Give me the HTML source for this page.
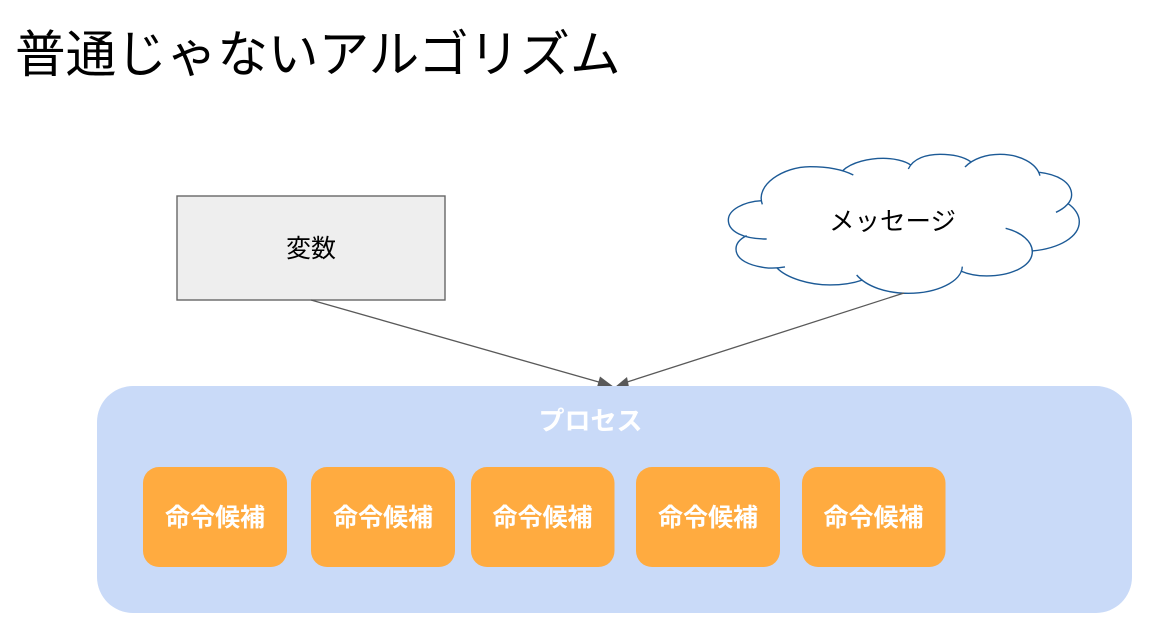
<!DOCTYPE html>
<html lang="ja"><head><meta charset="utf-8"><style>
html,body{margin:0;padding:0;background:#fff;width:1156px;height:633px;overflow:hidden}
svg{display:block}
text{font-family:"Liberation Sans","Noto Sans CJK JP",sans-serif}
.b{font-size:25px;font-weight:700;fill:#fff;text-anchor:middle}
.n{font-size:25px;fill:#000;text-anchor:middle}
</style></head><body>
<svg width="1156" height="633" viewBox="0 0 1156 633" xmlns="http://www.w3.org/2000/svg">
<text x="15" y="72" font-size="50.6" fill="#000">普通じゃないアルゴリズム</text>
<rect x="177" y="196" width="268" height="104" fill="#eeeeee" stroke="#666" stroke-width="1.4"/>
<text class="n" x="311" y="257">変数</text>
<g transform="translate(720 145) scale(.3333)" fill="none" stroke="#1c5a96" stroke-width="4.2">
<path fill="#fff" stroke="none" d="M127,178 C105,120 190,65 270,65 L367,78 C395,50 450,40 490,40 L565,60 C580,40 620,28 660,28 L735,50 C760,40 800,28 840,28 C900,28 950,55 960,85 C1010,88 1055,110 1055,150 L1043,175 C1065,190 1078,210 1078,230 C1078,275 1020,310 937,318 C937,365 870,393 800,393 L727,378 C725,410 650,445 565,445 C500,445 440,425 415,405 C390,418 360,420 330,420 C270,420 200,400 170,368 L135,368 C90,362 48,345 48,312 C48,295 60,282 80,272 C70,282 25,260 25,225 C25,195 70,170 125,167Z"/>
<path d="M127,178 C105,120 190,65 270,65 C320,65 365,72 400,90"/>
<path d="M367,78 C395,50 450,40 490,40 C520,40 555,47 572,60"/>
<path d="M565,72 C580,40 620,28 660,28 C695,28 730,35 752,50"/>
<path d="M735,66 C760,40 800,28 840,28 C900,28 950,55 960,92"/>
<path d="M958,82 C1010,88 1055,110 1055,150 C1055,170 1035,190 1008,202"/>
<path d="M1043,175 C1065,190 1078,210 1078,230 C1078,275 1020,310 937,318"/>
<path d="M857,250 C905,262 937,290 937,320 C937,365 870,393 800,393 C770,393 745,388 722,378"/>
<path d="M727,365 C725,410 650,445 565,445 C500,445 440,425 410,390"/>
<path d="M428,405 C390,418 360,420 330,420 C270,420 200,400 170,368"/>
<path d="M195,366 C170,370 150,370 135,368 C90,362 48,345 48,312 C48,295 60,282 80,272"/>
<path d="M140,282 C70,282 25,260 25,225 C25,195 70,170 125,167"/>
</g>
<text class="n" x="892.500" y="230" style="font-size:25.500px">メッセージ</text>
<line x1="311" y1="300" x2="604" y2="383.5" stroke="#595959" stroke-width="1.3"/>
<line x1="904" y1="293" x2="624" y2="383" stroke="#595959" stroke-width="1.3"/>
<polygon points="614,387 600,376.5 597,387" fill="#595959"/>
<polygon points="615,387 627,377 629,387" fill="#595959"/>
<rect x="97" y="386" width="1035" height="227" rx="36" fill="#c9daf8"/>
<text class="b" x="590.500" y="430" style="font-size:26px">プロセス</text>
<g fill="#ffab40">
<rect x="143" y="467" width="144" height="100" rx="16"/>
<rect x="311" y="467" width="144" height="100" rx="16"/>
<rect x="471" y="467" width="143.500" height="100" rx="16"/>
<rect x="636" y="467" width="144" height="100" rx="16"/>
<rect x="802" y="467" width="143.500" height="100" rx="16"/>
</g>
<text class="b" x="215" y="526">命令候補</text>
<text class="b" x="383" y="526">命令候補</text>
<text class="b" x="542.500" y="526">命令候補</text>
<text class="b" x="708" y="526">命令候補</text>
<text class="b" x="873.500" y="526">命令候補</text>
</svg>
</body></html>
